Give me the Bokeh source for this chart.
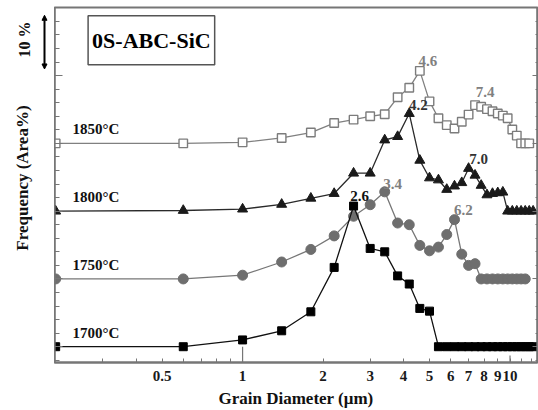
import math
from bokeh.plotting import figure
from bokeh.layouts import row
from bokeh.models import (FixedTicker, LinearAxis, Label, Arrow, NormalHead,
                          Range1d, CustomJSTickFormatter)
from bokeh.embed import file_html
from bokeh.resources import INLINE

FONT = "Liberation Serif"

# ---------------- data (grain diameter in µm, frequency relative to each baseline) ----
d_1850 = [0.2, 0.6, 1.0, 1.4, 1.8, 2.2, 2.6, 3.0, 3.4, 3.8, 4.2, 4.6, 5.0, 5.4, 5.8,
          6.2, 6.6, 7.0, 7.4, 7.8, 8.2, 8.6, 9.0, 9.4, 9.8, 10.2, 10.6, 11.0, 11.4, 11.8]
f_1850 = [0, 0, 0.15, 0.8, 1.6, 3.0, 3.5, 4.0, 4.3, 6.8, 8.2, 10.7, 6.2, 3.7, 2.7,
          2.2, 3.2, 4.25, 5.65, 5.4, 5.05, 4.75, 4.4, 4.1, 3.7, 2.05, 1.15, 0, 0, 0]

d_1800 = [0.2, 0.6, 1.0, 1.4, 1.8, 2.2, 2.6, 3.0, 3.4, 3.8, 4.2, 4.6, 5.0, 5.4, 5.8,
          6.2, 6.6, 7.0, 7.4, 7.8, 8.2, 8.6, 9.0, 9.4, 9.8, 10.2, 10.6, 11.0, 11.4, 11.8, 12.2]
f_1800 = [0, 0.1, 0.3, 1.0, 1.9, 2.6, 5.6, 5.6, 10.5, 11.0, 14.4, 7.5, 4.9, 4.6, 3.2,
          3.7, 4.2, 6.3, 5.3, 3.8, 2.4, 2.6, 2.7, 2.8, 0, 0, 0, 0, 0, 0, 0]

d_1750 = [0.2, 0.6, 1.0, 1.4, 1.8, 2.2, 2.6, 3.0, 3.4, 3.8, 4.2, 4.6, 5.0, 5.4, 5.8,
          6.2, 6.6, 7.0, 7.4, 7.8, 8.2, 8.6, 9.0, 9.4, 9.8, 10.2, 10.6, 11.0, 11.4]
f_1750 = [0, 0, 0.55, 2.5, 4.35, 6.35, 9.25, 10.95, 12.85, 8.25, 8.0, 4.95, 4.15, 4.7, 6.55,
          8.75, 3.65, 2.0, 2.25, 0, 0, 0, 0, 0, 0, 0, 0, 0, 0]

d_1700 = [0.2, 0.6, 1.0, 1.4, 1.8, 2.2, 2.6, 3.0, 3.4, 3.8, 4.2, 4.6, 5.0, 5.4, 5.8,
          6.2, 6.6, 7.0, 7.4, 7.8, 8.2, 8.6, 9.0, 9.4, 9.8, 10.2, 10.6, 11.0, 11.4, 11.8, 12.2]
f_1700 = [0, 0, 1.0, 2.35, 5.15, 11.7, 20.75, 14.5, 14.0, 10.45, 9.25, 5.65, 5.25, 0, 0,
          0, 0, 0, 0, 0, 0, 0, 0, 0, 0, 0, 0, 0, 0, 0, 0]

series_names = ["1850°C", "1800°C", "1750°C", "1700°C"]
series_offsets = [30, 20, 10, 0]

x_tick_values = [0.5, 1, 2, 3, 4, 5, 6, 7, 8, 9, 10]
x_minor_values = [0.3, 0.4, 0.6, 0.7, 0.8, 0.9, 11, 12]

y_major = [0, 10, 20, 30, 40, 50]
y_minor = [v for v in range(-2, 50, 2) if v % 10 != 0]

# peak annotations: (text, series index, diameter)
peak_labels = [("4.6", 0, 4.6), ("7.4", 0, 7.4), ("4.2", 1, 4.2), ("7.0", 1, 7.0),
               ("3.4", 2, 3.4), ("6.2", 2, 6.2), ("2.6", 3, 2.6)]

AX = "#767676"
X0, X1 = 0.198, 12.67
Y0, Y1 = -2.33, 50.05

# ---------------- main figure ----------------
p = figure(width=484, height=410, x_axis_type="log",
           x_range=Range1d(X0, X1), y_range=Range1d(Y0, Y1),
           output_backend="svg", toolbar_location=None,
           min_border_left=0, min_border_right=1, min_border_top=7, min_border_bottom=0)
p.xgrid.visible = False
p.ygrid.visible = False
p.outline_line_color = AX
p.outline_line_width = 1.8
p.background_fill_color = "white"
p.border_fill_color = "white"

xa = p.xaxis[0]
xa.ticker = FixedTicker(ticks=x_tick_values, minor_ticks=x_minor_values)
xa.formatter = CustomJSTickFormatter(code="return tick.toString();")
xa.axis_line_color = AX
xa.axis_line_width = 1.8
xa.major_tick_line_color = AX
xa.minor_tick_line_color = AX
xa.major_tick_in = 4
xa.major_tick_out = 0
xa.minor_tick_in = 4
xa.minor_tick_out = 0
xa.major_label_standoff = 8
xa.major_label_text_font = FONT
xa.major_label_text_font_style = "bold"
xa.major_label_text_font_size = "15px"
xa.major_label_text_color = "#1a1a1a"
xa.axis_label = "Grain Diameter (μm)"
xa.axis_label_text_font = FONT
xa.axis_label_text_font_style = "bold"
xa.axis_label_text_font_size = "17px"
xa.axis_label_text_color = "#111111"
xa.axis_label_standoff = 5


def tick_axis(axis, ticks, length):
    axis.ticker = FixedTicker(ticks=[], minor_ticks=ticks)
    axis.axis_line_color = AX
    axis.axis_line_width = 1.8
    axis.minor_tick_line_color = AX
    axis.minor_tick_line_width = 1.2
    axis.minor_tick_in = length
    axis.minor_tick_out = 0
    axis.major_tick_in = 0
    axis.major_tick_out = 0
    axis.major_label_standoff = 0
    axis.axis_label_standoff = 0


# left: short minor ticks + longer major ticks (two stacked tick-only axes)
tick_axis(p.yaxis[0], y_minor, 5)
left_major = LinearAxis()
tick_axis(left_major, y_major, 8)
p.add_layout(left_major, "left")

# right mirror axis
right_minor = LinearAxis()
tick_axis(right_minor, y_minor, 2)
right_major = LinearAxis()
tick_axis(right_major, y_major, 5)
p.add_layout(right_minor, "right")
p.add_layout(right_major, "right")

# longer bottom ticks at 1 and 10
p.segment(x0=[1, 10], y0=[Y0, Y0], x1=[1, 10], y1=[0.0, -1.3],
          line_color=AX, line_width=1.2)

# ---------------- series ----------------
def shifted(vals, off):
    return [v + off for v in vals]

y1850 = shifted(f_1850, series_offsets[0])
y1800 = shifted(f_1800, series_offsets[1])
y1750 = shifted(f_1750, series_offsets[2])
y1700 = shifted(f_1700, series_offsets[3])

p.line(d_1850, y1850, line_color="#808080", line_width=1.3)
p.scatter(d_1850, y1850, marker="square", size=8.5, fill_color="white",
          line_color="#7c7c7c", line_width=1.4)

p.line(d_1800, y1800, line_color="#2a2a2a", line_width=1.3)
p.scatter(d_1800, y1800, marker="triangle", size=10, fill_color="#1a1a1a",
          line_color="#1a1a1a")

p.line(d_1750, y1750, line_color="#777777", line_width=1.3)
p.scatter(d_1750, y1750, marker="circle", size=10, fill_color="#6e6e6e",
          line_color="#6e6e6e")

p.line(d_1700, y1700, line_color="#111111", line_width=1.3)
p.scatter(d_1700, y1700, marker="square", size=8, fill_color="black",
          line_color="black")

# ---------------- annotations inside the frame ----------------
for name, off in zip(series_names, series_offsets):
    p.add_layout(Label(x=X0, y=off, x_offset=18, y_offset=14, text=name,
                       text_font=FONT, text_font_style="bold", text_font_size="15px",
                       text_color="#111111", text_align="left", text_baseline="middle"))

series_x = [d_1850, d_1800, d_1750, d_1700]
series_y = [y1850, y1800, y1750, y1700]
label_colors = {"4.6": "#808080", "7.4": "#808080", "3.4": "#808080", "6.2": "#808080",
                "4.2": "#333333", "7.0": "#333333", "2.6": "#111111"}
label_shift = {"4.6": (8, 10), "7.4": (10, 13), "4.2": (9, 9), "7.0": (10, 9),
               "3.4": (8, 8), "6.2": (9, 10), "2.6": (6, 10)}
for txt, si, dval in peak_labels:
    idx = series_x[si].index(dval)
    dx, dy = label_shift[txt]
    p.add_layout(Label(x=dval, y=series_y[si][idx], x_offset=dx, y_offset=dy, text=txt,
                       text_font=FONT, text_font_style="bold", text_font_size="15px",
                       text_color=label_colors[txt], text_align="center",
                       text_baseline="middle"))

p.add_layout(Label(x=0.456, y=45.2, text="0S-ABC-SiC", text_font=FONT,
                   text_font_style="bold", text_font_size="22px", text_color="black",
                   text_align="center", text_baseline="middle",
                   border_line_color="#555555", border_line_width=1.5,
                   background_fill_color="white", padding=(4, 12)))

# ---------------- left strip: axis title and 10 % scale bar ----------------
L = figure(width=54, height=410, x_range=Range1d(0, 54), y_range=Range1d(0, 410),
           output_backend="svg", toolbar_location=None,
           x_axis_location=None, y_axis_location=None,
           min_border_left=0, min_border_right=0, min_border_top=0, min_border_bottom=0)
L.xgrid.visible = False
L.ygrid.visible = False
L.outline_line_color = None
L.background_fill_color = "white"
L.border_fill_color = "white"

L.add_layout(Label(x=22, y=410 - 197, text="Frequency (Area%)", angle=math.pi / 2,
                   text_font=FONT, text_font_style="bold", text_font_size="17px",
                   text_color="#111111", text_align="center", text_baseline="middle"))
L.add_layout(Label(x=24, y=410 - 37, text="10 %", angle=math.pi / 2,
                   text_font=FONT, text_font_style="bold", text_font_size="16px",
                   text_color="#111111", text_align="center", text_baseline="middle"))
L.add_layout(Arrow(x_start=44, y_start=410 - 71, x_end=44, y_end=410 - 9,
                   line_width=2, line_color="black",
                   start=NormalHead(size=5, fill_color="black", line_color="black"),
                   end=NormalHead(size=5, fill_color="black", line_color="black")))

layout = row(L, p, spacing=0)
open("out.html", "w").write(file_html(layout, INLINE))
